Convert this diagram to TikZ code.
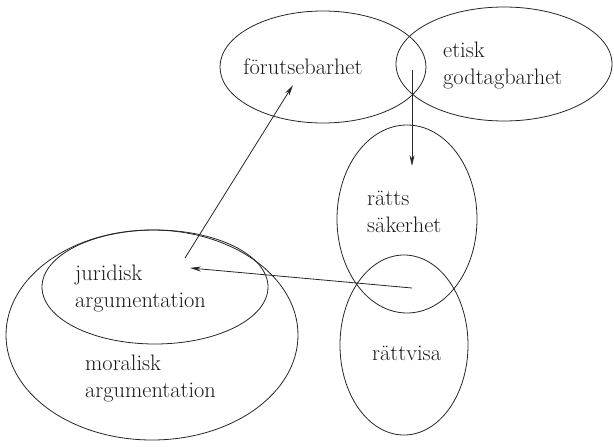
\documentclass[tikz,border=0pt]{standalone}
\usetikzlibrary{shapes.geometric,arrows.meta}
\begin{document}
\begin{tikzpicture}[x=1pt,y=-1pt,
  ell/.style={draw=black!85, ellipse, line width=0.8pt, inner sep=0pt},
  lbl/.style={inner sep=0pt, align=left, font=\fontsize{22.4}{27}\selectfont, text=black!90},
  arr/.style={draw=black!85, line width=0.8pt, -{Stealth[length=11pt,width=5pt]}}]
\useasboundingbox (0,0) rectangle (614,447);
% ellipses
\node[ell, minimum width=206pt, minimum height=112pt] (ef) at (323,67) {};
\node[ell, minimum width=216pt, minimum height=114pt] (ee) at (504,64) {};
\node[ell, minimum width=140pt, minimum height=188pt] (er) at (407,219) {};
\node[ell, minimum width=128pt, minimum height=180pt] (ev) at (404,345) {};
\node[ell, minimum width=292pt, minimum height=210pt] (em) at (152,335) {};
\node[ell, minimum width=226pt, minimum height=114pt] (ej) at (155,287) {};
% labels
\node[lbl, anchor=center] (tf) at (303,67) {förutsebarhet};
\node[lbl, anchor=west] (te) at (443,66) {etisk\\godtagbarhet};
\node[lbl, anchor=west] (tr) at (367,212) {rätts\\säkerhet};
\node[lbl, anchor=west] (tv) at (372,353) {rättvisa};
\node[lbl, anchor=west] (tj) at (75,289) {juridisk\\argumentation};
\node[lbl, anchor=west] (tm) at (85,379) {moralisk\\argumentation};
% arrow endpoints
\coordinate (a1s) at (185,258);
\coordinate (a1e) at (293,85);
\coordinate (a2s) at (412,70);
\coordinate (a2e) at (412,166);
\coordinate (a3s) at (412,288);
\coordinate (a3e) at (190,268);
\draw[arr] (a1s) -- (a1e);
\draw[arr] (a2s) -- (a2e);
\draw[arr] (a3s) -- (a3e);
\end{tikzpicture}
\end{document}
